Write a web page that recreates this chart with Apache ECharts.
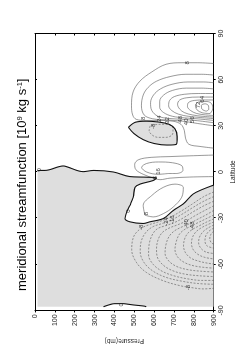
<!DOCTYPE html>
<html><head><meta charset="utf-8">
<script src="https://cdn.jsdelivr.net/npm/echarts@6/dist/echarts.min.js"></script>
<style>
html,body{margin:0;padding:0;background:#fff;overflow:hidden;}
#page{position:relative;width:249px;height:352px;overflow:hidden;background:#fff;}
#chart{position:absolute;left:0;top:0;width:352px;height:249px;transform-origin:0 0;transform:translateY(352px) rotate(-90deg);}
</style></head><body><div id="page"><div id="chart"></div></div>
<script>
// axis ticks
const latTicks = [-90, -60, -30, 0, 30, 60, 90];
const presTicks = [0, 100, 200, 300, 400, 500, 600, 700, 800, 900];
// zero contours [latitude, pressure]
const zeroMain = [[0.7,12],[1,25],[1,50],[3.9,143],[3.4,160],[0.2,243],[1,294],[0,394],[-3,478],[-3.4,560],[-3.8,612],[-5.6,594],[-7.9,529],[-10,504],[-16.4,495],[-21.7,478],[-26,462],[-30.3,453],[-32.4,478],[-33.5,545],[-32.4,579],[-30.3,646],[-25,697],[-20.7,747],[-14.3,797],[-11.1,848],[-9,890],[-8.6,900]];
const zeroSouth = [[-87.6,345],[-86.5,370],[-85.6,400],[-85.6,445],[-86,470],[-86.5,500],[-87.2,550],[-87.6,560]];
const zeroIsland = [[29,470],[32.3,505],[33,560],[32.5,620],[31,675],[28,705],[23,716],[18,712],[17.5,665],[18.5,600],[21,545],[25,498],[29,470]];
// negative contours (dashed)
const m8Island = [[30,580],[27,575],[24,590],[22.5,620],[22.5,660],[24,690],[27,695],[30,690],[31,650],[30.8,610],[30,580]];
const m8  = [[-13,900],[-16,850],[-21,790],[-25.5,735],[-29.5,680],[-32.5,620],[-34.5,570],[-37,530],[-42,497],[-50.5,487],[-59,512],[-65.4,562],[-70.7,646],[-73.9,730],[-75,780],[-76,848],[-75.6,900]];
const m16 = [[-16,900],[-19,850],[-23.5,790],[-27.5,740],[-31,690],[-33.5,640],[-35.5,595],[-39,560],[-45,535],[-52,530],[-59,550],[-64.5,595],[-68.5,660],[-71,740],[-72.5,820],[-73,900]];
const m24 = [[-19,900],[-22,850],[-26,795],[-30,745],[-33,700],[-35,655],[-37,615],[-41,590],[-47,575],[-54,572],[-60,595],[-64.5,640],[-67.5,700],[-69.5,770],[-70.5,840],[-70.5,900]];
const m32 = [[-22,900],[-25,855],[-28.5,805],[-32,760],[-34.5,715],[-36.5,675],[-39.5,640],[-44,620],[-50,612],[-56,618],[-61,650],[-64.5,700],[-66.5,760],[-67.5,830],[-68,900]];
const m40 = [[-25,900],[-28,860],[-31,815],[-33.8,775],[-36,735],[-38.5,700],[-42,675],[-47,660],[-53,655],[-58,675],[-61.5,715],[-63.5,770],[-64.5,835],[-65,900]];
const m48 = [[-28,900],[-30.5,860],[-33,820],[-35.3,785],[-37.5,752],[-40.5,727],[-45,712],[-50.5,705],[-55.5,720],[-59,755],[-61,800],[-62,850],[-62.5,900]];
const m56 = [[-30.5,900],[-32.8,860],[-35,827],[-37,797],[-39.5,772],[-43,755],[-48,748],[-52.5,758],[-56,785],[-58,825],[-59.3,870],[-59.8,900]];
const m64 = [[-32.5,900],[-34.5,865],[-36.5,835],[-39,810],[-42.5,793],[-46.5,788],[-50.5,797],[-53.5,820],[-55.5,855],[-56.5,900]];
const m72 = [[-34.5,900],[-36.5,870],[-39,845],[-42.5,828],[-46,824],[-49.5,835],[-52,860],[-53,900]];
const m80 = [[-36.5,900],[-38.5,876],[-41.5,860],[-45,856],[-48,866],[-49.5,900]];
const m88 = [[-38.5,900],[-40.5,886],[-43.5,880],[-46,888],[-46.8,900]];
// positive contours (solid)
const p8  = [[15.5,900],[16.6,831],[18,775],[22,758],[27,752],[31,735],[33,695],[33.5,620],[33.5,560],[34.2,510],[37,492],[43,486],[52,494],[59,528],[65,588],[70,660],[71,740],[71,820],[70.5,900]];
const p16 = [[30,900],[31.5,820],[33,745],[33.8,665],[34.6,592],[37,550],[43,536],[50,545],[55,570],[59,612],[62,680],[63.5,760],[63.5,840],[63,900]];
const p24 = [[32,900],[33.3,820],[34.2,745],[34.8,675],[36.3,618],[40,588],[45,582],[50,597],[54,632],[57,690],[58.5,770],[58.5,850],[58,900]];
const p32 = [[33.5,900],[34.5,822],[35.2,752],[36.2,692],[38.6,648],[42,628],[46,628],[50,648],[53,692],[54.5,762],[54.5,840],[54,900]];
const p40 = [[34.7,900],[35.4,832],[36.2,772],[37.6,722],[40,688],[43,673],[46.5,678],[49,702],[50.5,752],[51,822],[51,900]];
const p48 = [[35.7,900],[36.2,842],[37.1,792],[38.6,752],[41,728],[44,718],[46.7,728],[48.2,762],[48.7,822],[48.7,900]];
const p56 = [[36.7,900],[37.2,852],[38.1,812],[40,783],[42.5,768],[45,772],[46.5,802],[46.8,852],[46.8,900]];
const p64 = [[38,882],[38.5,842],[40.5,815],[43.5,808],[45.6,828],[45.8,866],[44.3,890],[41,895],[38,882]];
const p72 = [[39.5,862],[41,840],[43.3,838],[44.3,857],[43,874],[40.7,875],[39.5,862]];
const p8Pocket = [[-28.1,554],[-21.7,545],[-15.3,588],[-10,646],[-7.9,705],[-10,747],[-16.4,739],[-22.8,696],[-27.1,646],[-29.2,596],[-28.1,554]];
const p8Eq  = [[-3,900],[-3.3,780],[-4,680],[-5,630],[-4.3,603],[-1.5,545],[1.5,508],[5,502],[8,522],[9.5,585],[10,680],[10.5,780],[11,900]];
const p16Eq = [[-1,670],[-1.5,620],[0,562],[3,537],[5.5,562],[6.5,622],[6,692],[4,740],[1,745],[-1,712],[-1,670]];
// contour labels [latitude, pressure, text]
const labels = [[1.4,22,'0'],[-25.5,468,'0'],[-86.3,436,'0'],[71,765,'8'],[34.8,545,'8'],[34.6,625,'24'],[33.4,668,'32'],[34.2,730,'48'],[32.6,762,'40'],[33.9,792,'56'],[47.2,842,'64'],[43.5,822,'72'],
  [29.6,596,'-8'],[-27,562,'8'],[-3.8,604,'8'],[0.3,622,'16'],[-36,538,'-8'],[-75.2,772,'-8'],[-32.2,660,'-24'],[-31,694,'-16'],[-33.5,764,'-40'],[-35,792,'-48']];

const grayPoly = [[-87.6,12]].concat(zeroMain, [[-87.6,900]], zeroSouth.slice().reverse(), [[-87.6,12]]);
const fills = [grayPoly, zeroIsland];
const negLines = [m8Island, m8, m16, m24, m32, m40, m48, m56, m64, m72, m80, m88];
const posLines = [p8, p16, p24, p32, p40, p48, p56, p64, p72, p8Pocket, p8Eq, p16Eq];
const zeroLines = [zeroMain, zeroSouth, zeroIsland];

const chart = echarts.init(document.getElementById('chart'), null, {renderer:'canvas'});
const FONT = 'Liberation Sans, Arial, sans-serif';
function lineSeries(pts, style) {
  return {type:'line', data:pts, showSymbol:false, symbol:'none', silent:true, animation:false,
    smooth:0.35, z:3, lineStyle:style};
}
const series = [
  {type:'custom', coordinateSystem:'cartesian2d', data:fills.map((f,i)=>[i,0]), silent:true, animation:false, z:1, clip:true,
   renderItem:function(params, api){
     const poly = fills[params.dataIndex];
     return {type:'polygon', shape:{points:poly.map(p=>api.coord(p))}, style:{fill:'#dedede', stroke:null}};
   }}
];
negLines.forEach(l=>series.push(lineSeries(l, {color:'#555', width:0.6, type:[2,1.5]})));
posLines.forEach(l=>series.push(lineSeries(l, {color:'#555', width:0.6, type:'solid'})));
zeroLines.forEach(l=>series.push(lineSeries(l, {color:'#111', width:1.1, type:'solid'})));
series.push({type:'scatter', data:labels.map(l=>[l[0],l[1],l[2]]), symbolSize:0, silent:true, animation:false, z:5,
   label:{show:true, position:'inside', formatter:p=>p.data[2], fontSize:6, color:'#222', fontFamily:FONT}});

const axisCommon = {type:'value', axisLine:{onZero:false, lineStyle:{color:'#000', width:1}}, splitLine:{show:false}};
chart.setOption({
  animation:false,
  backgroundColor:'#fff',
  title:{text:'meridional streamfunction [10{sup|9} kg s{sup|-1}]', left:61, top:16, padding:0,
    textStyle:{fontSize:13, fontWeight:'normal', color:'#000', fontFamily:FONT,
      rich:{sup:{fontSize:7.5, verticalAlign:'top', color:'#000', fontFamily:FONT}}}},
  grid:{left:37, right:33.5, top:35, bottom:35.3},
  xAxis:[
    Object.assign({}, axisCommon, {min:-90, max:90, interval:30, position:'bottom',
      axisTick:{show:true, inside:false, length:2, lineStyle:{color:'#000'}},
      axisLabel:{fontSize:7, margin:4, color:'#222', fontFamily:FONT},
      name:'Latitude', nameLocation:'middle', nameGap:13, nameTextStyle:{fontSize:6.5, color:'#222', fontFamily:FONT}}),
    Object.assign({}, axisCommon, {min:-90, max:90, interval:30, position:'top',
      axisTick:{show:true, inside:true, length:2, lineStyle:{color:'#000'}}, axisLabel:{show:false}})
  ],
  yAxis:[
    Object.assign({}, axisCommon, {min:0, max:900, interval:100, inverse:true, position:'left',
      axisTick:{show:true, inside:false, length:2, lineStyle:{color:'#000'}},
      axisLabel:{fontSize:7, margin:4, color:'#222', fontFamily:FONT},
      name:'Pressure(mb)', nameLocation:'middle', nameGap:26, nameTextStyle:{fontSize:6.5, color:'#222', fontFamily:FONT}}),
    Object.assign({}, axisCommon, {min:0, max:900, interval:100, inverse:true, position:'right',
      axisTick:{show:true, inside:true, length:2, lineStyle:{color:'#000'}}, axisLabel:{show:false}})
  ],
  series:series
});
</script></body></html>
